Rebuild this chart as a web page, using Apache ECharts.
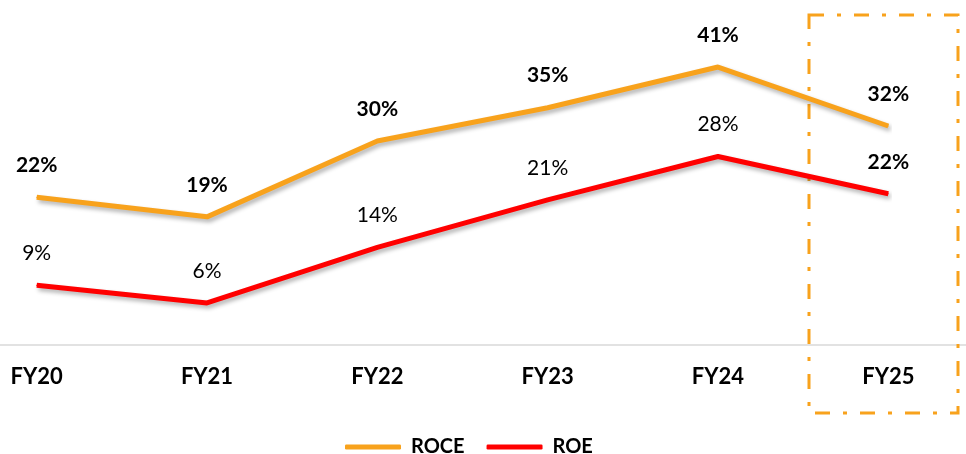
<!DOCTYPE html>
<html>
<head>
<meta charset="utf-8">
<script src="https://cdn.jsdelivr.net/npm/echarts@6/dist/echarts.min.js"></script>
<style>
  html, body { margin: 0; padding: 0; background: #fff; }
  #main { width: 966px; height: 454px; }
</style>
</head>
<body>
<div id="main"></div>
<script>
// values (percent)
const years = ['FY20', 'FY21', 'FY22', 'FY23', 'FY24', 'FY25'];
const roce = [21.8, 18.9, 30.1, 35.0, 41.0, 32.3];
const roe = [8.8, 6.2, 14.4, 21.4, 27.8, 22.3];

const ORANGE = '#F8A21C';
const RED = '#FF0000';
const FONT = 'Lato';

const chart = echarts.init(document.getElementById('main'), null, { renderer: 'canvas' });

function lineSeries(name, data, color, bold) {
  // the last point (FY25) label is always bold
  const items = data.map(function (v, i) {
    if (i === data.length - 1) return { value: v, label: { fontWeight: 'bold' } };
    return v;
  });
  return {
    name: name,
    type: 'line',
    data: items,
    symbol: 'circle',
    symbolSize: 1,
    itemStyle: { color: color },
    lineStyle: {
      color: color,
      width: 5,
      shadowColor: 'rgba(0,0,0,0.3)',
      shadowBlur: 4,
      shadowOffsetX: 2,
      shadowOffsetY: 3
    },
    label: {
      show: true,
      position: 'top',
      distance: 21,
      color: '#000',
      fontFamily: FONT,
      fontSize: 21,
      fontWeight: bold ? 'bold' : 'normal',
      formatter: function (p) { return Math.round(p.value) + '%'; }
    },
    emphasis: { disabled: true },
    animation: false
  };
}

const option = {
  backgroundColor: '#fff',
  grid: [
    { left: 36.7, right: 77.7, top: 6, bottom: 109 },
    // full width grid, only used for the baseline
    { left: 0, right: 0, top: 6, bottom: 109 }
  ],
  legend: {
    data: [
      { name: 'ROCE', icon: 'roundRect' },
      { name: 'ROE', icon: 'roundRect' }
    ],
    left: 340,
    top: 432,
    itemWidth: 56,
    itemHeight: 5,
    itemGap: 22,
    textStyle: {
      fontFamily: FONT,
      fontSize: 20,
      fontWeight: 'bold',
      color: '#000',
      padding: [0, 0, 0, 5]
    }
  },
  xAxis: [{
    type: 'category',
    data: years,
    boundaryGap: false,
    gridIndex: 0,
    axisLine: { show: false },
    axisTick: { show: false },
    axisLabel: {
      margin: 21,
      color: '#000',
      fontFamily: FONT,
      fontSize: 22,
      fontWeight: 'bold'
    }
  }, {
    type: 'category',
    data: years,
    gridIndex: 1,
    axisLine: { lineStyle: { color: '#D9D9D9', width: 1.5 } },
    axisTick: { show: false },
    axisLabel: { show: false }
  }],
  yAxis: [{
    type: 'value',
    min: 0,
    max: 50,
    gridIndex: 0,
    show: false,
    splitLine: { show: false }
  }, {
    type: 'value',
    min: 0,
    max: 50,
    gridIndex: 1,
    show: false,
    splitLine: { show: false }
  }],
  graphic: [{
    type: 'rect',
    shape: { x: 809, y: 15, width: 149, height: 398 },
    style: {
      fill: 'none',
      stroke: ORANGE,
      lineWidth: 3,
      lineDash: [15, 13, 4, 13]
    },
    z: 1
  }],
  series: [
    lineSeries('ROCE', roce, ORANGE, true),
    lineSeries('ROE', roe, RED, false)
  ]
};

chart.setOption(option);
</script>
</body>
</html>
